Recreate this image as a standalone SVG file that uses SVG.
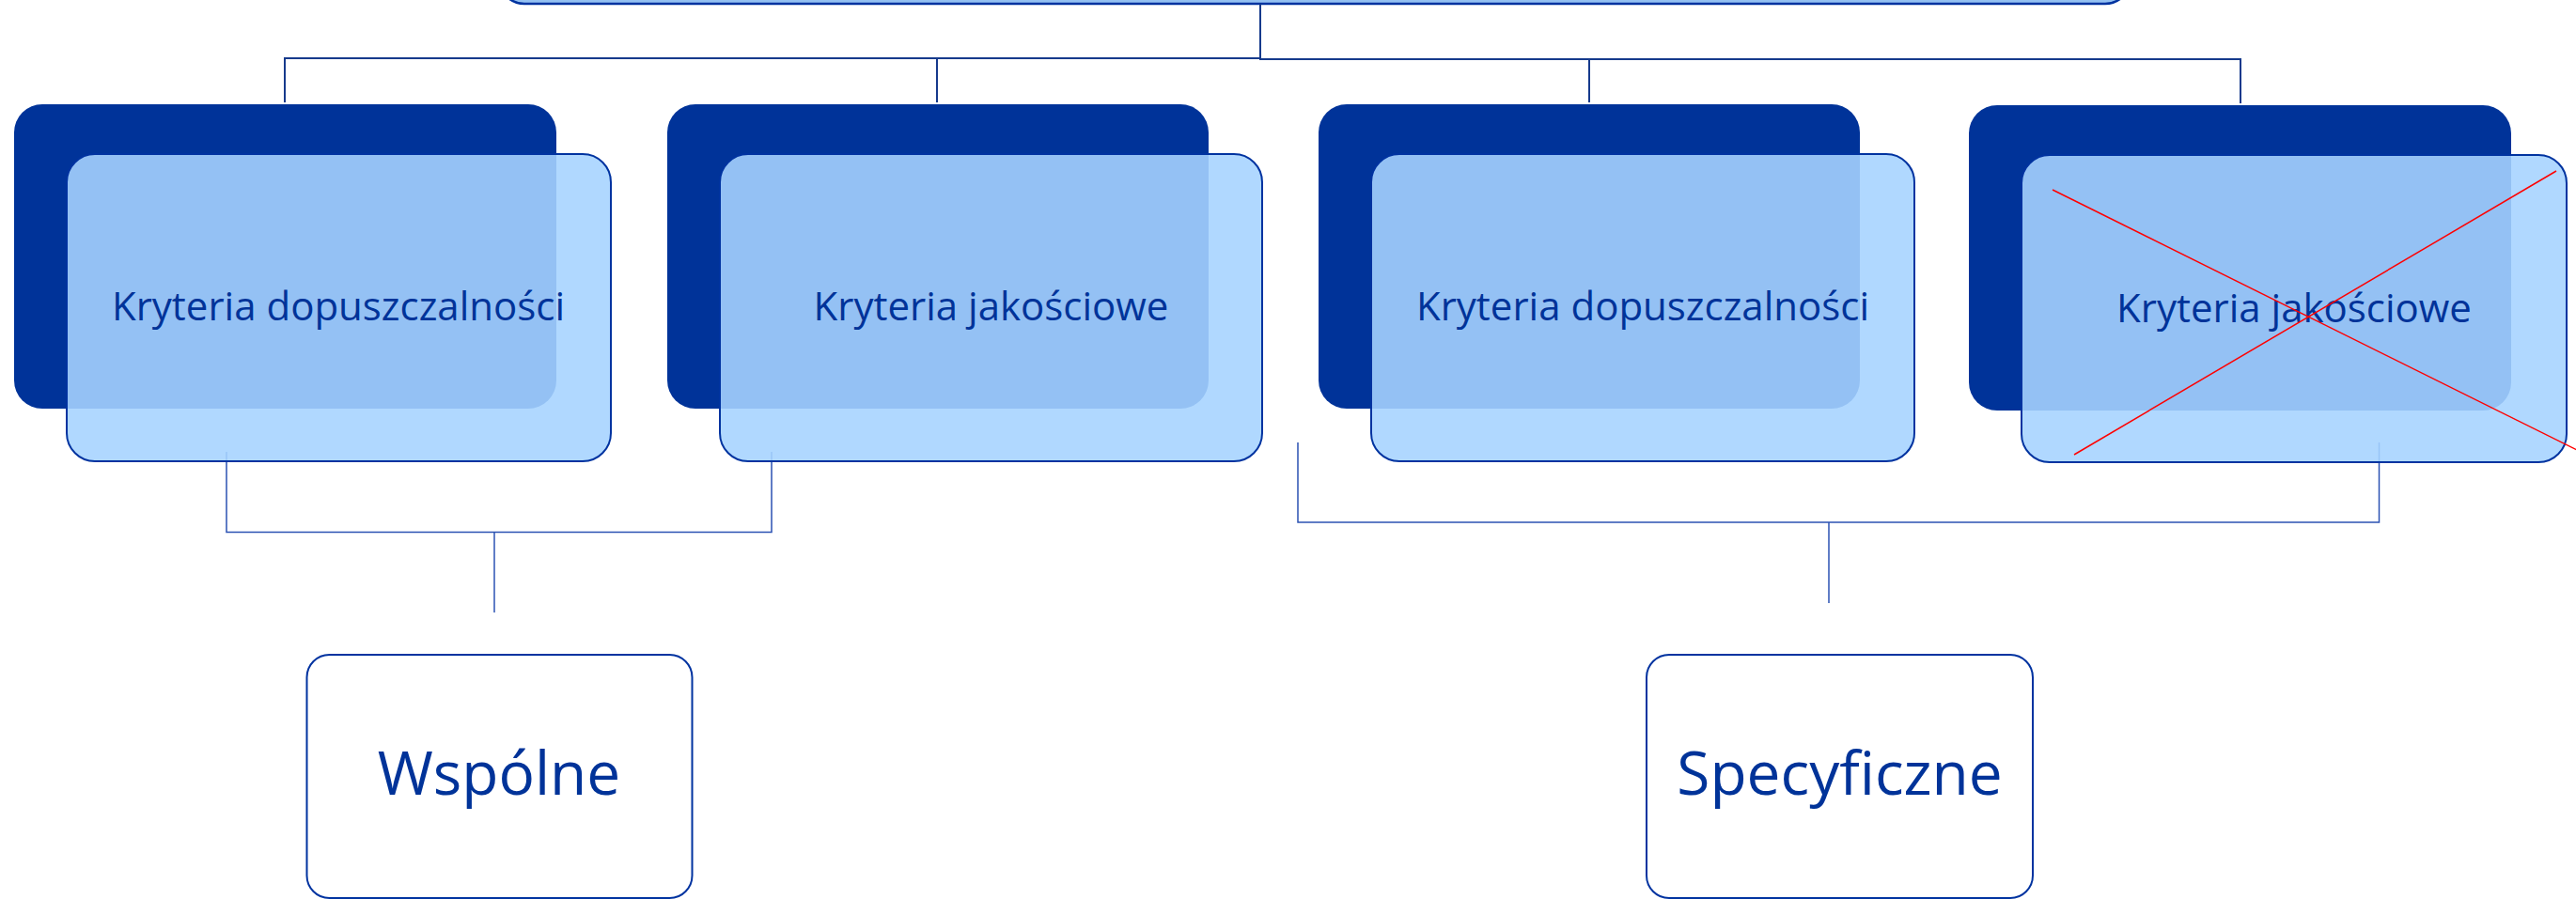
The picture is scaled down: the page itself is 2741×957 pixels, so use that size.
<svg xmlns="http://www.w3.org/2000/svg" width="2741" height="957" viewBox="0 0 2741 957">
<style>
.dark{fill:#003399;}
.light{fill:#A6D3FF;fill-opacity:0.89;stroke:#0033A0;stroke-width:2;}
.lbl{font-family:"Open Sans","Noto Sans","Liberation Sans",sans-serif;fill:#003399;text-anchor:middle;}
.t42{font-size:42px;}
.t64{font-size:64px;}
.top{fill:none;stroke:#163A8C;stroke-width:2;}
.bot{fill:none;stroke:#2B52B3;stroke-width:1.5;}
.white{fill:#FFFFFF;stroke:#0033A0;stroke-width:2;}
.cross{stroke:#FF0000;stroke-width:1.5;}
</style>
<rect width="2741" height="957" fill="#FFFFFF"/>
<g id="root">
<rect x="531" y="-330" width="1736" height="334" rx="27" fill="#94C1F2" stroke="#0033A0" stroke-width="2.5"/>
</g>
<g id="connectors">
<polyline class="top" points="1341,4 1341,62 303,62 303,109"/>
<polyline class="top" points="1341,62 997,62 997,109"/>
<polyline class="top" points="1341,4 1341,63 1691,63 1691,109"/>
<polyline class="top" points="1691,63 2384,63 2384,110"/>
<polyline class="bot" points="241,481 241,566.5 821,566.5 821,481"/>
<line class="bot" x1="526" y1="566.5" x2="526" y2="652"/>
<polyline class="bot" points="1381,471 1381,556 2531.5,556 2531.5,471"/>
<line class="bot" x1="1946" y1="556" x2="1946" y2="642" stroke="#34508F"/>
</g>
<g id="node1">
<rect class="dark" x="15" y="111" width="577" height="324" rx="30"/>
<rect class="light" x="71" y="164" width="579" height="327" rx="30"/>
<text class="lbl t42" x="360" y="341">Kryteria dopuszczalności</text>
</g>
<g id="node2">
<rect class="dark" x="710" y="111" width="576" height="324" rx="30"/>
<rect class="light" x="766" y="164" width="577" height="327" rx="30"/>
<text class="lbl t42" x="1054.5" y="341">Kryteria jakościowe</text>
</g>
<g id="node3">
<rect class="dark" x="1403" y="111" width="576" height="324" rx="30"/>
<rect class="light" x="1459" y="164" width="578" height="327" rx="30"/>
<text class="lbl t42" x="1748" y="341">Kryteria dopuszczalności</text>
</g>
<g id="node4">
<rect class="dark" x="2095" y="112" width="577" height="325" rx="30"/>
<rect class="light" x="2151" y="165" width="580" height="327" rx="30"/>
<text class="lbl t42" x="2441" y="343">Kryteria jakościowe</text>
<line class="cross" x1="2184" y1="202" x2="2750" y2="483"/>
<line class="cross" x1="2207" y1="484" x2="2720" y2="182"/>
</g>
<g id="node5">
<rect class="white" x="326.5" y="697" width="410" height="259" rx="24"/>
<text class="lbl t64" x="531" y="846">Wspólne</text>
</g>
<g id="node6">
<rect class="white" x="1752" y="697" width="411" height="259" rx="24"/>
<text class="lbl t64" x="1957.5" y="846">Specyficzne</text>
</g>
</svg>
